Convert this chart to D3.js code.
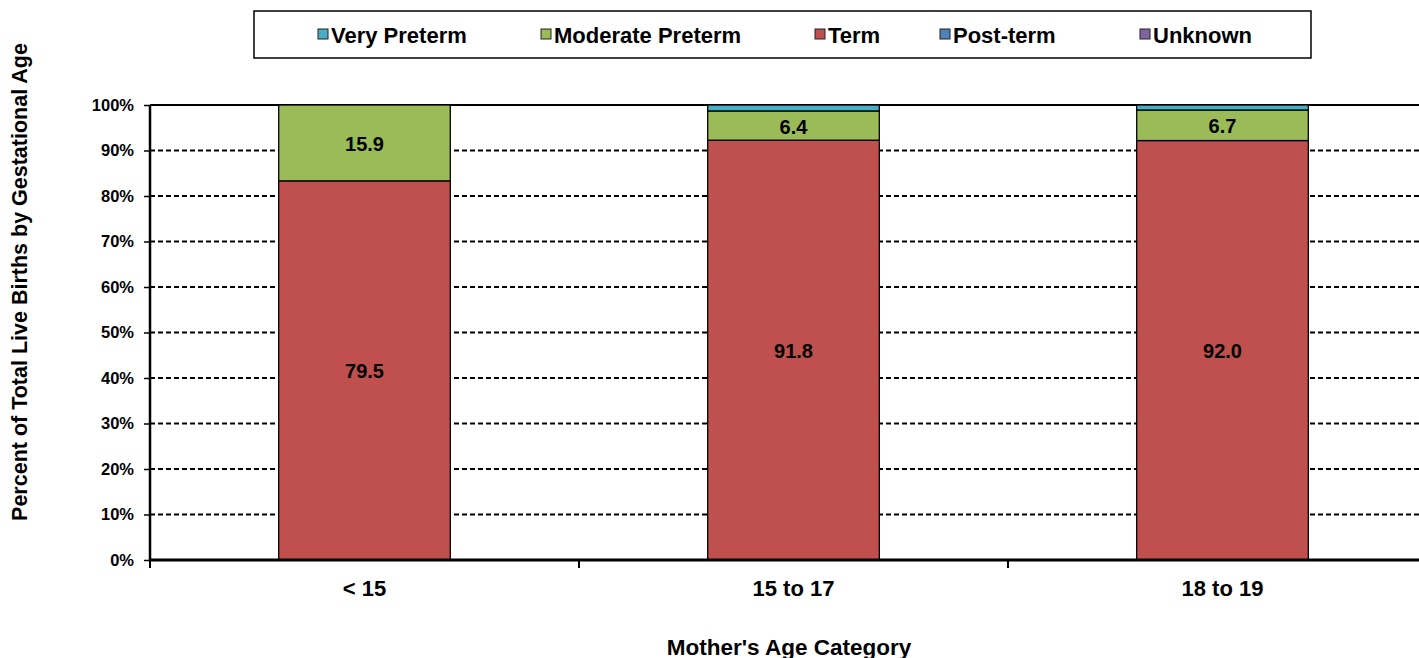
<!DOCTYPE html>
<html><head><meta charset="utf-8">
<script src="https://cdn.jsdelivr.net/npm/d3@7"></script>
<style>body{margin:0;background:#fff}svg{display:block}text{font-family:"Liberation Sans",Arial,sans-serif;font-weight:bold}</style>
</head><body>
<svg id="c" width="1419" height="658"></svg>
<script>
const categories = ["< 15", "15 to 17", "18 to 19"];
const seriesNames = ["Very Preterm", "Moderate Preterm", "Term", "Post-term", "Unknown"];
const veryPreterm = [0, 1.3, 1.1];
const moderatePreterm = [15.9, 6.4, 6.7];
const term = [79.5, 91.8, 92.0];
const postTerm = [0, 0, 0];
const unknown = [0, 0, 0];
const yTicks = [0, 0.1, 0.2, 0.3, 0.4, 0.5, 0.6, 0.7, 0.8, 0.9, 1.0];
const colors = {"Very Preterm":"#4BACC6","Moderate Preterm":"#9BBB59","Term":"#C0504D","Post-term":"#4F81BD","Unknown":"#8064A2"};

const rows = categories.map((c,i)=>({cat:c,"Very Preterm":veryPreterm[i],"Moderate Preterm":moderatePreterm[i],"Term":term[i],"Post-term":postTerm[i],"Unknown":unknown[i]}));
const stackOrder = ["Term","Moderate Preterm","Very Preterm","Post-term","Unknown"];
const stacked = d3.stack().keys(stackOrder).offset(d3.stackOffsetExpand)(rows);

const svg = d3.select("#c");
const L = 150, R = 1437, T = 105, B = 560;
const x = d3.scaleBand().domain(categories).range([L,R]).paddingInner(0.6).paddingOuter(0.3);
const y = d3.scaleLinear().domain([0,1]).range([B,T]);

// gridlines
svg.append("g").selectAll("line").data(yTicks.filter(t=>t>0)).join("line")
  .attr("x1",L).attr("x2",1419).attr("y1",d=>y(d)).attr("y2",d=>y(d))
  .attr("stroke","#000").attr("stroke-width",2)
  .attr("stroke-dasharray",d=>d===1?null:"5,3");

// bars
const g = svg.append("g");
stacked.forEach(s=>{
  g.selectAll(null).data(s).join("rect")
    .attr("x",d=>x(d.data.cat)).attr("width",x.bandwidth())
    .attr("y",d=>y(d[1])).attr("height",d=>Math.max(0,y(d[0])-y(d[1])))
    .attr("fill",colors[s.key]).attr("stroke","#000").attr("stroke-width",1.3)
    .attr("display",d=>d[1]-d[0]>0?null:"none");
  g.selectAll(null).data(s.filter(d=>d[1]-d[0]>0.03)).join("text")
    .attr("x",d=>x(d.data.cat)+x.bandwidth()/2).attr("y",d=>(y(d[0])+y(d[1]))/2+1)
    .attr("text-anchor","middle").attr("dominant-baseline","central")
    .attr("font-size",20).text(d=>d.data[s.key].toFixed(1));
});

// y axis
const ya = svg.append("g").attr("transform",`translate(${L},0)`)
  .call(d3.axisLeft(y).tickValues(yTicks).tickFormat(d3.format(".0%")).tickSize(6).tickPadding(10));
ya.select(".domain").attr("stroke-width",2.5).attr("d",`M0,${T}V${B}`);
ya.selectAll(".tick line").attr("stroke-width",1.5);
ya.selectAll("text").attr("font-size",16.5).attr("font-family","Liberation Sans, Arial, sans-serif").attr("font-weight","bold").attr("fill","#000");

// x axis
const xa = svg.append("g").attr("transform",`translate(0,${B})`)
  .call(d3.axisBottom(x).tickSize(0).tickPadding(20));
xa.select(".domain").attr("stroke-width",3).attr("d",`M${L},0H1419`);
xa.selectAll("text").attr("font-size",22).attr("font-family","Liberation Sans, Arial, sans-serif").attr("font-weight","bold").attr("fill","#000");
const bounds = [L, ...categories.slice(1).map(c=>x(c)-x.step()*x.paddingInner()/2)];
svg.append("g").selectAll("line").data(bounds).join("line")
  .attr("x1",d=>d).attr("x2",d=>d).attr("y1",B).attr("y2",B+8)
  .attr("stroke","#000").attr("stroke-width",2);

// axis titles
svg.append("text").attr("transform","translate(20,282) rotate(-90)").attr("text-anchor","middle")
  .attr("dominant-baseline","central").attr("font-size",21.5).text("Percent of Total Live Births by Gestational Age");
svg.append("text").attr("x",789).attr("y",647).attr("text-anchor","middle")
  .attr("dominant-baseline","central").attr("font-size",22.5).text("Mother's Age Category");

// legend
svg.append("rect").attr("x",254).attr("y",11).attr("width",1057).attr("height",47)
  .attr("fill","#fff").attr("stroke","#000").attr("stroke-width",1.5);
const legX = [318, 541, 815, 940, 1140];
const lg = svg.append("g").selectAll("g").data(seriesNames).join("g")
  .attr("transform",(d,i)=>`translate(${legX[i]},34)`);
lg.append("rect").attr("x",0).attr("y",-5).attr("width",10).attr("height",10)
  .attr("fill",d=>colors[d]).attr("stroke","#222").attr("stroke-width",1);
lg.append("text").attr("x",13).attr("y",1).attr("dominant-baseline","central")
  .attr("font-size",22).text(d=>d);
</script>
</body></html>
